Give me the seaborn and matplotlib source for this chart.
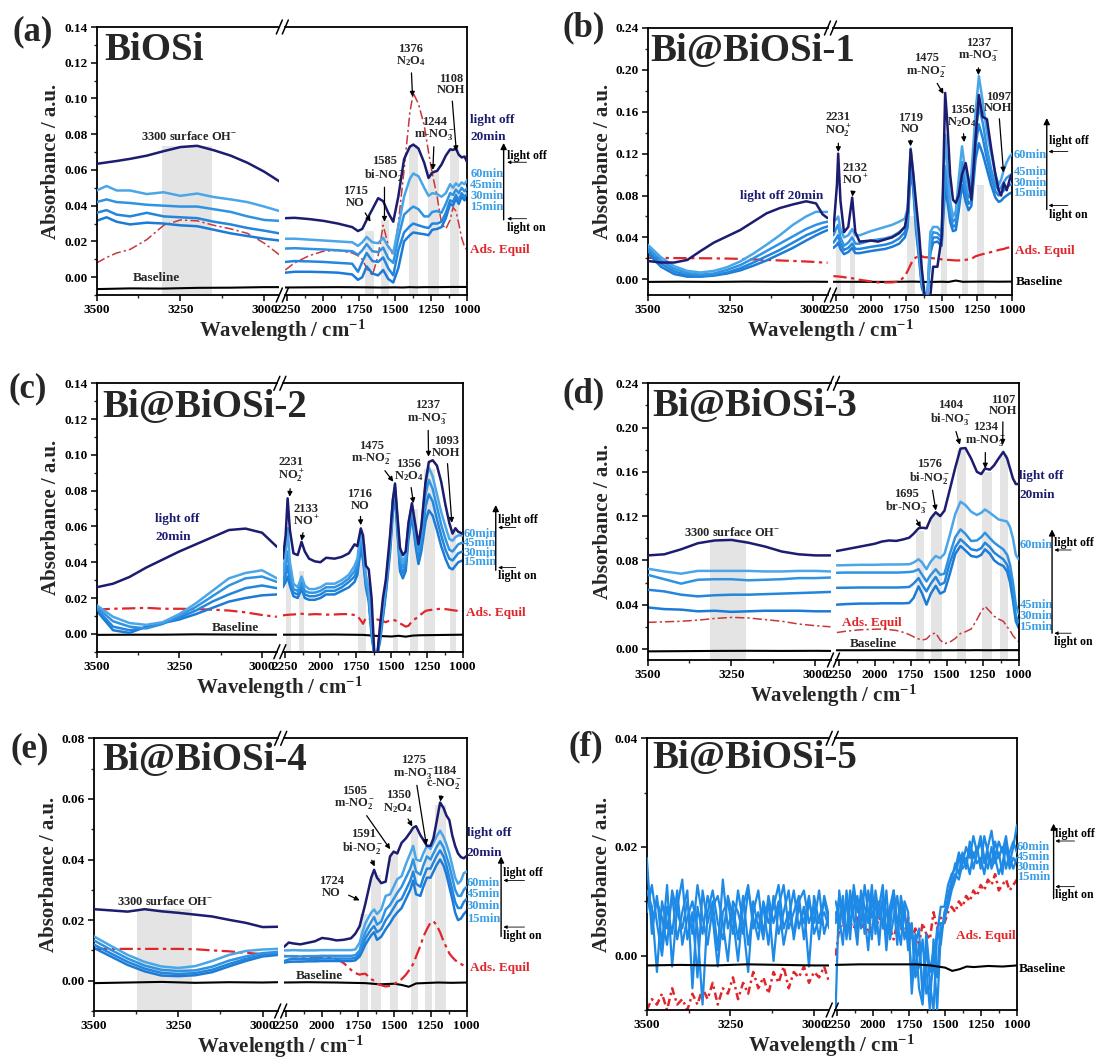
import numpy as np
import matplotlib
matplotlib.use("Agg")
import matplotlib.pyplot as plt
import seaborn as sns
from matplotlib.ticker import MultipleLocator, FormatStrFormatter
from matplotlib.lines import Line2D

# ======================= DATA =======================
BASE_XL = [3500, 3400, 3300, 3200, 3100, 3000, 2955]
BASE_XR = [2265, 2100, 1900, 1700, 1600, 1500, 1450, 1400, 1350, 1300, 1200, 1100, 1000]

# ---- (a) BiOSi ----
A_XL = [3500, 3470, 3440, 3400, 3350, 3300, 3250, 3200, 3150, 3100, 3050, 3000, 2955]
A_XR = [2265, 2200, 2100, 2000, 1900, 1800, 1760, 1730, 1700, 1660, 1620, 1585, 1550, 1515, 1480, 1440,
        1400, 1376, 1340, 1300, 1270, 1244, 1210, 1180, 1150, 1120, 1100, 1080, 1060, 1040, 1020, 1000]
A_OFF = ([.0634, .0642, .065, .0662, .068, .0705, .0728, .0735, .071, .068, .064, .059, .0536],
         [.033, .0332, .0325, .0315, .030, .028, .0258, .027, .032, .038, .0442, .0425, .036, .031, .045, .066,
          .073, .0742, .072, .064, .0555, .0585, .0595, .063, .068, .0715, .0712, .072, .0685, .067, .0675, .064])
A_60 = ([.0485, .051, .0485, .0485, .0465, .0475, .0455, .0468, .0448, .0435, .042, .0395, .037],
        [.0215, .0215, .021, .0205, .020, .0195, .0175, .0195, .0225, .0195, .019, .022, .017, .0135, .028, .045,
         .055, .058, .0565, .050, .0455, .047, .0465, .045, .047, .052, .050, .0525, .051, .053, .052, .0545])
A_45 = ([.042, .0435, .042, .0415, .0405, .040, .0395, .0395, .038, .0365, .034, .032, .0315],
        [.016, .0162, .0158, .0155, .015, .0145, .0125, .015, .0185, .0145, .014, .0165, .0105, .008, .022, .035,
         .038, .0395, .038, .034, .034, .0365, .037, .036, .041, .047, .046, .049, .047, .050, .048, .050])
A_30 = ([.036, .0375, .035, .034, .036, .034, .0335, .033, .031, .0295, .0275, .026, .0245],
        [.0085, .009, .0088, .0085, .008, .0075, .003, .0085, .0135, .009, .0085, .011, .005, .001, .015, .025,
         .0285, .030, .029, .028, .0275, .030, .030, .031, .036, .043, .042, .046, .043, .047, .045, .047])
A_15 = ([.0315, .0335, .031, .0295, .0305, .030, .029, .0285, .0265, .0245, .023, .0215, .0205],
        [.0025, .003, .003, .0028, .0025, .0015, -.0015, .000, .006, .002, .001, .004, -.001, -.003, .005, .020,
         .0235, .025, .0245, .024, .0235, .0265, .027, .028, .033, .041, .040, .044, .041, .045, .043, .045])
A_ADS = ([.0079, .011, .0135, .0155, .021, .029, .032, .0315, .029, .027, .0245, .019, .0125],
         [.004, .008, .012, .0145, .015, .0135, .012, .010, .005, .001, .012, .029, .018, .012, .030, .060,
          .092, .103, .097, .085, .070, .058, .045, .030, .027, .032, .039, .037, .030, .022, .017, .015])
A_BASE = ([-.0067, -.0063, -.0064, -.006, -.0059, -.0056, -.0056],
          [-.0058, -.0057, -.0056, -.0057, -.0058, -.0057, -.0058, -.0056, -.0057, -.0056, -.0056, -.0055, -.0055])
A_BANDS = [(3155, 3305, .0735), (1650, 1710, .026), (1545, 1600, .032), (1340, 1406, .074),
           (1200, 1272, .060), (1058, 1118, .072)]

# ---- (b) Bi@BiOSi-1 ----
B_XL = [3500, 3460, 3420, 3380, 3340, 3300, 3260, 3220, 3180, 3140, 3100, 3060, 3020, 2990, 2970, 2955]
B_XR = [2265, 2240, 2231, 2215, 2190, 2160, 2132, 2110, 2080, 2000,
        1950, 1900, 1850, 1800, 1760, 1740, 1719, 1700, 1680, 1660,
        1640, 1620, 1600, 1580, 1560, 1530, 1500, 1490, 1475, 1460,
        1440, 1420, 1400, 1380, 1356, 1330, 1310, 1290, 1260, 1237,
        1210, 1180, 1150, 1120, 1097, 1080, 1060, 1040, 1020, 1000]
B_OFF = ([.0175, .016, .016, .0185, .027, .035, .041, .047, .055, .063, .068, .0715, .0745, .0725, .062, .0585],
         [.046, .090, .120, .075, .045, .050, .078, .045, .036, .037,
          .036, .038, .040, .044, .050, .065, .124, .100, .072, .045,
          .010, -.016, -.016, -.016, .012, .012, .040, .090, .178, .150,
          .100, .076, .073, .080, .100, .111, .095, .076, .135, .176,
          .155, .153, .125, .100, .085, .080, .092, .085, .095, .102])
B_60 = ([.033, .021, .0125, .008, .0065, .008, .0115, .017, .0245, .033, .042, .052, .060, .0645, .0643, .0643],
        [.055, .058, .060, .048, .040, .042, .048, .042, .042, .046,
         .048, .050, .052, .055, .058, .068, .125, .100, .060, .030,
         .000, -.016, -.016, .045, .050, .050, .045, .080, .138, .110,
         .075, .060, .065, .095, .127, .100, .085, .100, .160, .194,
         .170, .140, .120, .100, .090, .095, .105, .112, .117, .120])
B_45 = ([.030, .018, .010, .006, .0045, .0055, .009, .0135, .020, .027, .034, .041, .048, .052, .054, .055],
        [.042, .050, .052, .040, .032, .035, .040, .034, .034, .037,
         .038, .039, .041, .045, .050, .060, .118, .095, .055, .030,
         .000, -.016, -.016, .038, .045, .044, .040, .070, .108, .090,
         .065, .055, .058, .080, .112, .090, .078, .080, .140, .165,
         .150, .125, .105, .090, .085, .088, .093, .097, .099, .100])
B_30 = ([.027, .015, .0075, .004, .003, .004, .0065, .0105, .016, .022, .028, .035, .042, .046, .049, .0505],
        [.035, .040, .042, .034, .028, .030, .034, .029, .029, .031,
         .032, .033, .035, .039, .045, .055, .113, .090, .050, .025,
         -.005, -.016, -.016, .030, .040, .040, .036, .062, .098, .082,
         .060, .050, .052, .072, .101, .082, .072, .075, .128, .148,
         .135, .115, .098, .084, .080, .082, .085, .088, .090, .091])
B_15 = ([.025, .012, .005, .0025, .0025, .0035, .0055, .0085, .013, .018, .024, .030, .037, .042, .045, .047],
        [.030, .033, .035, .029, .024, .026, .030, .025, .025, .027,
         .028, .029, .031, .034, .040, .050, .105, .085, .045, .020,
         -.008, -.016, -.016, .025, .035, .036, .032, .055, .088, .075,
         .055, .046, .047, .065, .090, .074, .066, .070, .115, .130,
         .120, .105, .090, .078, .074, .075, .078, .080, .082, .083])
B_ADS = ([.0205, .0204, .0203, .0202, .0201, .020, .0198, .0195, .019, .0185, .018, .0175, .017, .0165, .016, .0158],
         [.003, .0028, .0027, .0025, .002, .0015, .001, .0005, -.0005, -.002,
          -.003, -.003, -.003, -.002, .003, .008, .014, .019, .021, .022,
          .022, .021, .021, .0205, .020, .020, .019, .019, .0188, .0186,
          .0184, .0182, .018, .018, .0183, .0186, .019, .0195, .022, .023,
          .024, .025, .026, .027, .028, .0285, .029, .030, .0305, .031])
B_BASE = ([-.0025, -.0023, -.0025, -.0022, -.0024, -.0023, -.0024],
          [-.0024, -.0024, -.0025, -.0022, -.0026, -.0023, -.0025, -.0012, -.0024, -.0023, -.0022, -.0023, -.0022])
B_BANDS = [(2212, 2250, .045), (2115, 2150, .045), (1690, 1745, .06), (1460, 1505, .076),
           (1313, 1358, .08), (1204, 1252, .09)]

# ---- (c) Bi@BiOSi-2 ----
C_XL = [3500, 3450, 3400, 3350, 3300, 3250, 3200, 3150, 3100, 3050, 3000, 2955]
C_XR = [2265, 2245, 2231, 2215, 2190, 2160, 2133, 2110, 2080, 2040,
        2000, 1960, 1900, 1850, 1800, 1760, 1740, 1716, 1700, 1680,
        1660, 1640, 1620, 1600, 1580, 1560, 1540, 1510, 1490, 1475,
        1460, 1440, 1420, 1400, 1380, 1356, 1330, 1310, 1290, 1260,
        1237, 1210, 1180, 1150, 1120, 1093, 1070, 1050, 1030, 1000]
C_OFF = ([.026, .028, .0318, .037, .0415, .046, .050, .054, .058, .0588, .0565, .0486],
         [.042, .055, .0757, .058, .045, .044, .0514, .046, .042, .0405,
          .040, .0425, .042, .043, .045, .050, .049, .0589, .055, .038,
          .036, .020, -.012, -.012, .005, .020, .030, .055, .075, .084,
          .068, .048, .044, .046, .062, .073, .060, .050, .060, .085,
          .096, .097, .094, .085, .072, .062, .056, .059, .057, .056])
C_60 = ([.016, .0095, .006, .005, .0065, .011, .017, .024, .031, .034, .0355, .031],
        [.033, .045, .059, .040, .028, .026, .032, .027, .025, .025,
         .026, .028, .028, .030, .033, .038, .042, .057, .050, .033,
         .025, .005, -.012, -.012, .002, .015, .028, .052, .075, .082,
         .066, .045, .040, .044, .062, .072, .058, .050, .058, .084,
         .093, .088, .078, .068, .060, .053, .052, .054, .055, .055])
C_45 = ([.015, .007, .004, .003, .0055, .010, .015, .021, .027, .031, .032, .029],
        [.030, .038, .046, .034, .025, .024, .029, .024, .023, .023,
         .024, .026, .026, .028, .031, .035, .039, .054, .047, .030,
         .022, .003, -.012, -.012, .000, .013, .026, .050, .074, .081,
         .064, .041, .037, .041, .060, .071, .055, .046, .054, .078,
         .086, .081, .071, .061, .053, .047, .046, .048, .050, .051])
C_30 = ([.014, .004, .002, .0035, .006, .009, .013, .018, .022, .0255, .027, .0255],
        [.028, .033, .038, .030, .023, .022, .027, .022, .021, .021,
         .022, .024, .024, .026, .029, .032, .036, .051, .044, .028,
         .020, .001, -.012, -.012, -.002, .011, .024, .048, .072, .080,
         .062, .038, .034, .038, .057, .069, .052, .042, .050, .071,
         .078, .074, .064, .055, .047, .042, .041, .043, .045, .046])
C_15 = ([.013, .002, .0005, .004, .006, .008, .011, .0145, .018, .020, .0215, .022],
        [.026, .029, .032, .027, .021, .020, .025, .020, .019, .019,
         .020, .022, .022, .024, .026, .029, .033, .048, .041, .026,
         .018, -.001, -.012, -.012, -.004, .009, .022, .045, .068, .077,
         .059, .035, .031, .035, .053, .066, .049, .039, .046, .063,
         .069, .066, .058, .049, .042, .037, .036, .038, .040, .041])
C_ADS = ([.0135, .014, .0142, .0145, .014, .014, .0138, .0135, .013, .012, .0105, .0095],
         [.0103, .0105, .0106, .0107, .0108, .011, .0112, .011, .0108, .011,
          .0109, .0107, .0108, .011, .011, .0105, .010, .0075, .0056, .009,
          .0085, .008, .008, .008, .0075, .007, .0065, .0075, .0078, .0075,
          .007, .0058, .005, .004, .0045, .007, .0085, .0095, .011, .0128,
          .0132, .0135, .0138, .014, .0138, .0135, .0132, .013, .0128, .0127])
C_BASE = ([-.0006, -.0005, -.0005, -.0003, -.0004, -.0005, -.0005],
          [-.0005, -.0005, -.0004, -.0006, -.0012, -.0015, -.0011, -.0016, -.0010, -.0008, -.0007, -.0006, -.0005])
C_BANDS = [(2205, 2243, .04), (2113, 2150, .035), (1678, 1736, .05), (1455, 1492, .07),
           (1313, 1368, .07), (1194, 1273, .092), (1045, 1090, .058)]

# ---- (d) Bi@BiOSi-3 ----
D_XL = [3500, 3450, 3400, 3350, 3300, 3250, 3200, 3150, 3100, 3050, 3000, 2955]
D_XR = [2262, 2200, 2100, 2000, 1950, 1900, 1850, 1800, 1760, 1730,
        1695, 1670, 1640, 1610, 1576, 1545, 1515, 1480, 1440, 1404,
        1370, 1330, 1290, 1260, 1234, 1200, 1170, 1140, 1107, 1080,
        1060, 1040, 1020, 1000]
D_OFF = ([.0845, .0855, .090, .0955, .098, .0985, .096, .0925, .088, .0855, .0845, .0845],
         [.0885, .090, .0925, .095, .097, .098, .0976, .099, .1005, .104,
          .109, .1095, .109, .118, .1235, .120, .125, .143, .164, .181,
          .1815, .172, .160, .158, .163, .162, .166, .172, .178, .172,
          .163, .154, .149, .149])
D_60 = ([.0725, .070, .068, .0705, .0705, .0705, .0705, .070, .070, .0705, .0705, .070],
        [.0755, .0757, .076, .076, .0762, .0763, .0763, .0764, .0765, .078,
         .081, .078, .072, .079, .084, .082, .086, .102, .122, .133,
         .130, .124, .121, .123, .126, .123, .120, .117, .116, .115,
         .110, .100, .085, .081])
D_45 = ([.067, .063, .059, .0625, .063, .063, .062, .0625, .063, .064, .064, .0645],
        [.0688, .069, .069, .069, .069, .069, .069, .0692, .0695, .070,
         .072, .067, .061, .067, .072, .067, .068, .085, .101, .108,
         .104, .0975, .098, .101, .105, .100, .096, .093, .090, .085,
         .076, .060, .040, .0324])
D_30 = ([.0535, .052, .049, .0475, .0485, .049, .049, .0495, .050, .0505, .051, .0515],
        [.0552, .0553, .0555, .0555, .0555, .0555, .0555, .0557, .056, .059,
         .064, .058, .052, .059, .065, .058, .060, .077, .092, .099,
         .095, .090, .089, .091, .096, .092, .087, .084, .081, .076,
         .066, .050, .030, .024])
D_15 = ([.0375, .036, .0355, .034, .0345, .0335, .034, .0345, .0345, .0345, .034, .034],
        [.040, .0405, .041, .041, .0412, .0412, .0412, .0412, .0415, .046,
         .0565, .050, .040, .050, .057, .050, .052, .067, .086, .093,
         .089, .084, .083, .085, .090, .086, .080, .077, .075, .070,
         .060, .044, .025, .019])
D_ADS = ([.024, .0245, .025, .026, .0275, .0285, .028, .0265, .025, .0225, .021, .020],
         [.0148, .016, .0173, .0178, .0179, .0175, .0167, .015, .013, .011,
          .009, .008, .009, .013, .0145, .008, .0048, .006, .0095, .014,
          .0155, .018, .0265, .034, .0385, .034, .0295, .027, .025, .020,
          .0165, .012, .009, .0067])
D_BASE = ([-.0022, -.0020, -.0018, -.0017, -.0018, -.0017, -.0018],
          [-.0012, -.0012, -.0011, -.0012, -.0013, -.0012, -.0012, -.0011, -.0012, -.0011, -.0012, -.0011, -.0011])
D_BANDS = [(3206, 3314, .098), (1655, 1716, .107), (1534, 1607, .122), (1364, 1425, .18),
           (1182, 1255, .16), (1073, 1133, .175)]

# ---- (e) Bi@BiOSi-4 ----
E_XL = [3500, 3450, 3400, 3350, 3300, 3250, 3200, 3150, 3100, 3050, 3000, 2955]
E_XR = [2262, 2230, 2200, 2150, 2100, 2050, 2000, 1950, 1900, 1850,
        1800, 1770, 1740, 1724, 1700, 1660, 1640, 1620, 1591, 1560,
        1530, 1505, 1480, 1450, 1420, 1390, 1370, 1350, 1320, 1300,
        1275, 1250, 1230, 1210, 1184, 1160, 1140, 1120, 1100, 1080,
        1060, 1040, 1020, 1000]
E_OFF = ([.0236, .0232, .0228, .0236, .0229, .0224, .0218, .0212, .0201, .0191, .0177, .0178],
         [.0112, .0126, .0123, .012, .0125, .013, .0141, .0138, .0133, .0135,
          .014, .0155, .018, .021, .0255, .034, .0366, .034, .0322, .0327,
          .041, .0426, .042, .0455, .047, .049, .0505, .051, .048, .0465,
          .0445, .0445, .047, .052, .0588, .057, .0545, .053, .048, .0445,
          .042, .0408, .0404, .0412])
E_60 = ([.0146, .0115, .0085, .0062, .0047, .0042, .0048, .0065, .0085, .0098, .0103, .0105],
        [.0100, .0100, .0101, .0100, .0100, .0100, .0101, .0101, .0101, .0101,
         .0101, .0103, .0125, .0155, .019, .0225, .0235, .022, .0235, .028,
         .0285, .031, .0335, .0345, .0385, .042, .0445, .040, .0395, .042,
         .0445, .0435, .0455, .0475, .0495, .0475, .045, .042, .038, .034,
         .032, .033, .0355, .036])
E_45 = ([.0133, .0102, .0073, .0050, .0036, .0032, .0034, .0046, .0066, .0080, .0091, .0095],
        [.0080, .0081, .0081, .0080, .0081, .0081, .0082, .0082, .0082, .0082,
         .0082, .0084, .010, .013, .016, .0195, .021, .0185, .0195, .0235,
         .025, .027, .029, .031, .034, .037, .040, .036, .035, .038,
         .041, .040, .042, .044, .046, .044, .041, .038, .034, .030,
         .028, .028, .030, .031])
E_30 = ([.0119, .0090, .0062, .0040, .0026, .0022, .0025, .0036, .0055, .0072, .0085, .0090],
        [.0065, .0070, .0072, .0071, .0072, .0072, .0073, .0073, .0073, .0073,
         .0073, .0075, .0090, .011, .014, .017, .018, .016, .017, .020,
         .022, .024, .026, .027, .030, .033, .036, .032, .031, .034,
         .037, .037, .039, .041, .043, .041, .038, .034, .030, .026,
         .024, .024, .026, .027])
E_15 = ([.0108, .0080, .0052, .0031, .0017, .0015, .0018, .0028, .0047, .0065, .0080, .0085],
        [.0060, .0062, .0063, .0063, .0064, .0064, .0065, .0065, .0065, .0065,
         .0065, .0067, .0080, .0095, .012, .015, .016, .0135, .0145, .017,
         .019, .021, .0225, .024, .027, .030, .033, .0285, .028, .031,
         .034, .034, .036, .038, .040, .038, .035, .031, .027, .0225,
         .020, .0205, .022, .023])
E_ADS = ([.0105, .0105, .0105, .0105, .0105, .0105, .0104, .010, .0097, .0092, .0088, .0086],
         [.0082, .0081, .008, .0079, .0079, .0078, .0077, .0076, .0072, .0058,
          .0036, .0025, .002, .0022, .0023, .0005, .000, -.001, -.0015, -.0019,
          -.0017, -.0012, -.0005, .0005, .002, .004, .0055, .008, .0115, .0145,
          .017, .0192, .0196, .0185, .016, .013, .011, .009, .0078, .0068,
          .006, .0055, .005, .0047])
E_BASE = ([-.0008, -.0006, -.0004, -.0007, -.0005, -.0006, -.0005],
          [-.0006, -.0005, -.0006, -.0008, -.0012, -.0010, -.0014, -.0020, -.0009, -.0008, -.0006, -.0007, -.0006])
E_BANDS = [(3209, 3373, .0238), (1680, 1740, .022), (1595, 1660, .035), (1473, 1529, .042),
           (1335, 1388, .05), (1238, 1291, .044), (1141, 1218, .058)]

# ---- (f) Bi@BiOSi-5 (noisy spectra) ----
F_XL = np.linspace(3500, 2955, 37)
F_XR = np.linspace(2262, 1000, 51)
F_60 = ([.018, .004, .011, .002, .013, -.002, .009, .014, .003, .008,
         -.004, .012, .006, .010, .001, .014, .005, .009, .003, .011,
         .002, .008, .012, .004, .010, -.001, .009, .013, .005, .008,
         .011, .003, .010, .006, .012, .004, .008],
        [-.010, .012, .006, .010, .003, .013, .008, .011, .004, .012,
         .007, .010, .002, .011, .008, .005, .012, .006, .009, .003,
         .006, -.004, .004, -.006, -.009, .002, -.005, -.010, .004, .009,
         .009, .013, .015, .016, .019, .017, .020, .018, .022, .019,
         .021, .017, .020, .023, .018, .021, .019, .022, .017, .020, .024])
F_45 = ([.012, .009, -.003, .010, .005, .011, .003, .008, .012, -.006,
         .009, .004, .011, .007, -.002, .008, .010, .004, .012, .006,
         -.003, .010, .005, .009, .002, .011, .004, .008, .012, .003,
         .009, .006, .011, .004, .007, .010, .006],
        [.008, .005, .011, .003, .009, .012, .004, .010, .007, .001,
         .011, .006, .009, .013, .004, .008, .010, .002, .011, .007,
         .004, .006, -.003, .002, -.006, -.002, -.010, .003, -.004, .006,
         .006, .011, .014, .017, .015, .019, .016, .021, .018, .020,
         .016, .022, .019, .017, .021, .018, .020, .016, .019, .021, .019])
F_30 = ([.008, .013, .006, .000, .009, .004, .012, .002, .007, .010,
         .005, -.009, .008, .012, .006, .003, .011, .007, -.001, .009,
         .013, .005, .008, .003, .011, .006, .010, .002, .007, .012,
         .005, .009, -.002, .011, .006, .008, .005],
        [.010, .007, .002, .012, .006, .009, .011, .005, .013, .008,
         .003, .012, .007, .010, .001, .009, .012, .006, .002, .010,
         .008, -.007, .002, .005, -.008, .004, -.003, .001, -.010, .004,
         .007, .009, .012, .014, .018, .016, .017, .020, .016, .019,
         .022, .018, .016, .020, .017, .019, .015, .021, .018, .016, .018])
F_15 = ([.015, .006, .010, .007, .002, .012, .008, .005, .010, .004,
         .013, .007, .002, .009, .011, .006, -.001, .010, .008, .004,
         .012, .007, .003, .010, .006, .009, .013, .005, .008, .004,
         .010, .012, .006, .009, .003, .011, .007],
        [.006, .011, .008, .004, .012, .007, .002, .012, .009, .006,
         .013, .004, .010, .005, .012, .003, .007, .011, .005, .009,
         .001, .005, -.004, -.002, .003, -.007, -.006, -.002, .005, .002,
         .008, .010, .013, .015, .014, .017, .018, .015, .019, .017,
         .018, .015, .019, .016, .018, .015, .017, .020, .016, .018, .017])
F_ADS = ([-.010, -.008, -.009, -.007, -.010, -.006, -.009, -.008, -.010, -.007,
          -.009, -.006, -.008, -.005, -.009, -.006, -.007, -.004, -.008, -.005,
          -.007, -.003, -.006, -.004, -.007, -.003, -.005, -.002, -.006, -.003,
          -.004, -.002, -.005, -.003, -.004, -.002, -.005],
         [.000, .005, .006, .004, .006, .005, .007, .005, .006, .004,
          .006, .005, .007, .006, .004, .005, .003, .006, .005, .004,
          .007, .003, .005, .002, .006, .004, .003, .008, .005, .007,
          .006, .008, .009, .008, .010, .009, .011, .010, .012, .011,
          .013, .012, .014, .013, .015, .012, .013, .014, .012, .013, .014])
F_BASE = ([-.0018, -.0017, -.0018, -.0016, -.0017, -.0018, -.0018],
          [-.0017, -.0016, -.0016, -.0016, -.0018, -.0022, -.0028, -.0025, -.0020, -.0021, -.0019, -.0020, -.0018])

TIME_LABELS = ["60min", "45min", "30min", "15min"]

# ======================= STYLE =======================
sns.set_theme(style="ticks")
plt.rcParams["font.family"] = ["Liberation Serif", "DejaVu Serif"]
plt.rcParams["font.weight"] = "bold"
plt.rcParams["mathtext.fontset"] = "custom"
plt.rcParams["mathtext.rm"] = "Liberation Serif:bold"
plt.rcParams["mathtext.it"] = "Liberation Serif:italic:bold"
plt.rcParams["mathtext.bf"] = "Liberation Serif:bold"
plt.rcParams["mathtext.default"] = "rm"

NAVY = "#1c1c70"
BLUES = ["#4aa6e8", "#3093e2", "#2386dc", "#1b7bd6"]
SIDE_BLUE = "#3a9ee4"
RED = "#e0262b"
GRAY = "#e4e4e4"

W, H = 1095, 1062
fig = plt.figure(figsize=(W / 100, H / 100), dpi=100)
fig.patch.set_facecolor("white")

LF, RS, RW = 0.493, 0.509, 0.491


def make_panel(box, ylim, ymaj, ymin):
    l, t, r, b = box
    x0, y0, w, h = l / W, 1 - b / H, (r - l) / W, (b - t) / H
    axl = fig.add_axes([x0, y0, w * LF, h])
    axr = fig.add_axes([x0 + w * RS, y0, w * RW, h])
    for ax in (axl, axr):
        ax.set_facecolor("none")
        ax.set_ylim(*ylim)
        for s in ax.spines.values():
            s.set_linewidth(1.3)
            s.set_color("black")
        ax.tick_params(which="major", direction="out", length=4.5, width=1.1, labelsize=9.5, pad=2,
                       colors="black")
        ax.tick_params(which="minor", direction="out", length=2.5, width=1.0)
        ax.grid(False)
        ax.yaxis.set_major_locator(MultipleLocator(ymaj))
        ax.yaxis.set_minor_locator(MultipleLocator(ymin))
        ax.yaxis.set_major_formatter(FormatStrFormatter("%.2f"))
        ax.xaxis.set_minor_locator(MultipleLocator(125))
    axl.spines["right"].set_visible(False)
    axr.spines["left"].set_visible(False)
    axr.tick_params(axis="y", which="both", left=False, labelleft=False)
    axl.set_xlim(3500, 2955)
    axl.set_xticks([3500, 3250, 3000])
    axr.set_xlim(2265, 1000)
    axr.xaxis.set_major_locator(MultipleLocator(250))
    # break marks
    xc = x0 + w * 0.501
    for yb in (y0, y0 + h):
        for dx in (-3, 3):
            fig.add_artist(Line2D([xc + (dx - 3) / W, xc + (dx + 3) / W], [yb - 7 / H, yb + 7 / H],
                                  transform=fig.transFigure, color="black", lw=1.1))
    # axis labels
    fig.text(x0 - 45 / W, y0 + h / 2, "Absorbance / a.u.", rotation=90, ha="center", va="center",
             fontsize=15, fontweight="bold")
    fig.text(x0 + w / 2, y0 - 36 / H, "Wavelength / cm$^{-1}$", ha="center", va="center",
             fontsize=15, fontweight="bold")
    return axl, axr, (x0, y0, w, h)


def line(ax, x, y, color, lw=1.8, ls="-", z=2):
    sns.lineplot(x=list(x), y=list(y), ax=ax, color=color, lw=lw, linestyle=ls, sort=False,
                 estimator=None, legend=False, zorder=z)


def draw_series(axl, axr, xl, xr, blues, off, ads, base, ads_style):
    for ax, i, xs in ((axl, 0, xl), (axr, 1, xr)):
        line(ax, BASE_XL if i == 0 else BASE_XR, base[i], "black", lw=1.5, z=2)
        line(ax, xs, ads[i], ads_style[0], lw=ads_style[1], ls=ads_style[2], z=2.2)
        for k in (3, 2, 1, 0):
            line(ax, xs, blues[k][i], BLUES[k], lw=1.8, z=2.5 + 0.1 * (3 - k))
        if off is not None:
            line(ax, xs, off[i], NAVY, lw=1.8, z=3.2)
    for ax in (axl, axr):
        ax.set_xlabel("")
        ax.set_ylabel("")


def bands(axl, axr, blist, ymin):
    for lo, hi, top in blist:
        ax = axl if lo > 2400 else axr
        ax.fill_between([hi, lo], [ymin, ymin], [top, top], color=GRAY, lw=0, zorder=0.5)


def annot(ax, items):
    for txt, cx, cy, tx, ty in items:
        ax.annotate(txt, xy=(tx, ty), xytext=(cx, cy), ha="center", va="center", fontsize=9,
                    fontweight="bold", linespacing=0.95, zorder=6,
                    arrowprops=dict(arrowstyle="-|>", color="black", lw=0.9, mutation_scale=7,
                                    shrinkA=1, shrinkB=0))


def side(axr, xt, mins, navy=None, ads=None, base=None, arr=None):
    tr = axr.get_yaxis_transform()
    kw = dict(transform=tr, ha="left", va="center", fontsize=9.5, fontweight="bold", clip_on=False)
    kwm = dict(kw)
    kwm["fontsize"] = 9
    if navy:
        for s, y in navy:
            axr.text(xt, y, s, color=NAVY, **kw)
    for s, y in zip(TIME_LABELS, mins):
        axr.text(xt, y, s, color=SIDE_BLUE, **kwm)
    if ads:
        axr.text(ads[0], ads[1], "Ads. Equil", color=RED, **kw)
    if base:
        axr.text(base[0], base[1], "Baseline", color="black", **kw)
    if arr:
        xa, ya0, ya1, xtx, yoff, yoffa, yon, yona, xfrom = arr
        ak = dict(xycoords=tr, textcoords=tr, annotation_clip=False)
        axr.annotate("", xy=(xa, ya1), xytext=(xa, ya0),
                     arrowprops=dict(arrowstyle="-|>", color="black", lw=1.0, mutation_scale=9,
                                     shrinkA=0, shrinkB=0), **ak)
        for ya in (yoffa, yona):
            axr.annotate("", xy=(xtx, ya), xytext=(xfrom, ya),
                         arrowprops=dict(arrowstyle="-|>", color="black", lw=0.6, mutation_scale=5,
                                         shrinkA=0, shrinkB=0), **ak)
        kw2 = dict(kw)
        kw2["fontsize"] = 8.5
        axr.text(xtx, yoff, "light off", color="black", **kw2)
        axr.text(xtx, yon, "light on", color="black", **kw2)


def titles(geom, frac_x, frac_y, title, lab, lab_px):
    x0, y0, w, h = geom
    fig.text(x0 + frac_x * w * LF, y0 + frac_y * h, title, fontsize=28, fontweight="bold",
             ha="left", va="baseline", zorder=10)
    fig.text(lab_px[0] / W, 1 - lab_px[1] / H, lab, fontsize=25, fontweight="bold",
             ha="left", va="baseline")


DASHDOT = (0, (6, 2, 1.5, 2))

# ---------------- (a) ----------------
axl, axr, g = make_panel((96.5, 27, 467.4, 295), (-0.01, 0.14), 0.02, 0.01)
bands(axl, axr, A_BANDS, -0.01)
draw_series(axl, axr, A_XL, A_XR, [A_60, A_45, A_30, A_15], A_OFF, A_ADS, A_BASE, ("#c8383a", 1.1, DASHDOT))
axl.text(3223, .0785, "3300 surface OH$^{-}$", ha="center", va="center", fontsize=9, fontweight="bold")
axl.text(3323, -.0004, "Baseline", ha="center", va="center", fontsize=9.5, fontweight="bold")
annot(axr, [("1715\nNO", 1778, .045, 1673, .031),
            ("1585\nbi-NO$_2^-$", 1576, .0606, 1576, .031),
            ("1376\nN$_2$O$_4$", 1394, .124, 1381, .101),
            ("1244\nm-NO$_3^-$", 1228, .083, 1240, .060),
            ("1108\nNOH", 1114, .1077, 1077, .0705)])
side(axr, 1.015, [.0578, .0514, .0452, .0393], navy=[("light off", .0882), ("20min", .0783)],
     ads=(1.015, .0153), arr=(1.199, .0321, .0751, 1.219, .068, .0643, .0275, .0327, 1.325))
titles(g, 0.044, 0.876, "BiOSi", "(a)", (12, 40))

# ---------------- (b) ----------------
axl, axr, g = make_panel((647.8, 28, 1012.4, 295), (-0.015, 0.24), 0.04, 0.02)
bands(axl, axr, B_BANDS, -0.015)
draw_series(axl, axr, B_XL, B_XR, [B_60, B_45, B_30, B_15], B_OFF, B_ADS, B_BASE, (RED, 1.6, DASHDOT))
axl.text(3093, .0794, "light off 20min", color=NAVY, ha="center", va="center", fontsize=9.5,
         fontweight="bold")
annot(axr, [("2231\nNO$_2^+$", 2230, .1476, 2230, .1215),
            ("2132\nNO$^+$", 2111, .100, 2131, .079),
            ("1719\nNO", 1720, .1486, 1720, .127),
            ("1475\nm-NO$_2^-$", 1606, .204, 1487, .177),
            ("1356\nN$_2$O$_4$", 1354, .1556, 1341, .131),
            ("1237\nm-NO$_3^-$", 1240, .219, 1240, .195),
            ("1097\nNOH", 1101, .169, 1063, .102)])
side(axr, 1.006, [.119, .102, .092, .0825], ads=(1.016, .027), base=(1.016, -.003),
     arr=(1.192, .0667, .154, 1.202, .132, .122, .061, .0705, 1.31))
titles(g, 0.014, 0.875, "Bi@BiOSi-1", "(b)", (562, 36))

# ---------------- (c) ----------------
axl, axr, g = make_panel((96.5, 383.3, 462.5, 651.7), (-0.01, 0.14), 0.02, 0.01)
bands(axl, axr, C_BANDS, -0.01)
draw_series(axl, axr, C_XL, C_XR, [C_60, C_45, C_30, C_15], C_OFF, C_ADS, C_BASE, (RED, 1.6, DASHDOT))
axl.text(3323, .0639, "light off", color=NAVY, ha="left", va="center", fontsize=9.5, fontweight="bold")
axl.text(3323, .054, "20min", color=NAVY, ha="left", va="center", fontsize=9.5, fontweight="bold")
axl.text(3081, .0034, "Baseline", ha="center", va="center", fontsize=9.5, fontweight="bold")
annot(axr, [("2231\nNO$_2^+$", 2205, .0914, 2217, .0766),
            ("2133\nNO$^+$", 2101, .066, 2133, .052),
            ("1716\nNO", 1723, .0748, 1716, .0607),
            ("1475\nm-NO$_2^-$", 1641, .101, 1487, .085),
            ("1356\nN$_2$O$_4$", 1380, .0914, 1345, .073),
            ("1237\nm-NO$_3^-$", 1243, .1237, 1239, .099),
            ("1093\nNOH", 1114, .1043, 1075, .062)])
side(axr, 1.004, [.0557, .0508, .0452, .0402], ads=(1.02, .0116),
     arr=(1.185, .0355, .072, 1.199, .0636, .0594, .0321, .037, 1.296))
titles(g, 0.03, 0.876, "Bi@BiOSi-2", "(c)", (9, 397))

# ---------------- (d) ----------------
axl, axr, g = make_panel((647.5, 383.3, 1018.7, 660), (-0.01, 0.24), 0.04, 0.02)
bands(axl, axr, D_BANDS, -0.01)
draw_series(axl, axr, D_XL, D_XR, [D_60, D_45, D_30, D_15], D_OFF, D_ADS, D_BASE, ("#c8383a", 1.1, DASHDOT))
axl.text(3248, .105, "3300 surface OH$^{-}$", ha="center", va="center", fontsize=9, fontweight="bold")
axr.text(2019, .0233, "Ads. Equil", color=RED, ha="center", va="center", fontsize=9.5, fontweight="bold")
axr.text(2007, .0045, "Baseline", ha="center", va="center", fontsize=9.5, fontweight="bold")
annot(axr, [("1695\nbr-NO$_3^-$", 1777, .133, 1680, .1097),
            ("1576\nbi-NO$_2^-$", 1619, .160, 1575, .125),
            ("1404\nbi-NO$_3^-$", 1473, .213, 1408, .1845),
            ("1234\nm-NO$_3^-$", 1231, .1936, 1232, .163),
            ("1107\nNOH", 1109, .220, 1111, .1845)])
side(axr, 1.004, [.094, .040, .0294, .0197], navy=[("light off", .156), ("20min", .139)],
     arr=(1.183, .0142, .108, 1.196, .096, .0894, .0067, .0142, 1.288))
titles(g, 0.025, 0.882, "Bi@BiOSi-3", "(d)", (562, 402))

# ---------------- (e) ----------------
axl, axr, g = make_panel((94, 738.3, 466.7, 1011), (-0.01, 0.08), 0.02, 0.01)
bands(axl, axr, E_BANDS, -0.01)
draw_series(axl, axr, E_XL, E_XR, [E_60, E_45, E_30, E_15], E_OFF, E_ADS, E_BASE, (RED, 1.6, DASHDOT))
axl.text(3289, .0262, "3300 surface OH$^{-}$", ha="center", va="center", fontsize=9, fontweight="bold")
axr.text(2015, .0016, "Baseline", ha="center", va="center", fontsize=9.5, fontweight="bold")
annot(axr, [("1724\nNO", 1934, .0309, 1740, .0265),
            ("1591\nbi-NO$_2^-$", 1716, .0458, 1636, .0377),
            ("1505\nm-NO$_2^-$", 1777, .0603, 1529, .0434),
            ("1350\nN$_2$O$_4$", 1473, .059, 1376, .0509),
            ("1275\nm-NO$_3^-$", 1364, .0704, 1279, .0448),
            ("1184\nc-NO$_2^-$", 1158, .0669, 1182, .0591)])
side(axr, 1.0, [.0324, .0286, .0245, .0203], navy=[("light off", .0487), ("20min", .0423)],
     ads=(1.02, .0042), arr=(1.188, .0146, .041, 1.201, .0357, .0331, .0146, .0177, 1.316))
titles(g, 0.046, 0.884, "Bi@BiOSi-4", "(e)", (10.5, 757))

# ---------------- (f) ----------------
axl, axr, g = make_panel((646.8, 738.3, 1016.9, 1010), (-0.01, 0.04), 0.02, 0.01)
for ax, i, xs in ((axl, 0, F_XL), (axr, 1, F_XR)):
    line(ax, xs, F_ADS[i], RED, lw=1.8, ls=(0, (3, 1.5, 1, 1.5)), z=2.2)
    for k, ser in enumerate([F_15, F_30, F_45, F_60]):
        line(ax, xs, ser[i], "#1e8ae6", lw=1.6, z=2.5 + 0.1 * k)
    line(ax, BASE_XL if i == 0 else BASE_XR, F_BASE[i], "black", lw=1.5, z=3)
    ax.set_xlabel("")
    ax.set_ylabel("")
axr.text(1425, .0036, "Ads. Equil", color=RED, ha="left", va="center", fontsize=9.5, fontweight="bold",
         zorder=6)
side(axr, 1.0, [.020, .0182, .0163, .0145], base=(1.01, -.0024),
     arr=(1.202, .0105, .0243, 1.212, .0223, .0211, .0111, .0127, 1.317))
titles(g, 0.029, 0.89, "Bi@BiOSi-5", "(f)", (568, 755))

fig.savefig("out.png", dpi=100, facecolor="white")
